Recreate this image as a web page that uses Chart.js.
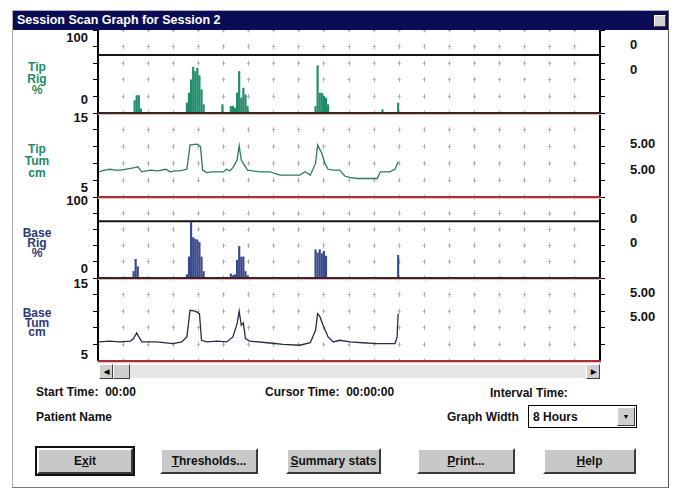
<!DOCTYPE html>
<html>
<head>
<meta charset="utf-8">
<title>Session Scan Graph for Session 2</title>
<script src="https://cdn.jsdelivr.net/npm/chart.js@4.4.1/dist/chart.umd.min.js"></script>
<style>
  html, body { margin: 0; padding: 0; background: #fff; }
  body {
    position: relative; width: 677px; height: 494px; overflow: hidden;
    font-family: 'Liberation Sans', Arial, sans-serif; font-weight: bold; font-size: 12px; color: #111;
  }
  .abs { position: absolute; white-space: nowrap; }

  /* ── window chrome ─────────────────────────── */
  #window   { left: 12px; top: 10px; width: 655px; height: 476px; border: 1px solid #b0b0b0; border-right-color: #555; border-bottom-color: #777; }
  #titlebar { left: 13px; top: 11px; width: 655px; height: 19px; background: #0c0c56; color: #fff; font-size: 12.5px; line-height: 19px; padding-left: 4px; box-sizing: border-box; }
  #closebtn { left: 654px; top: 15px; width: 12px; height: 12px; background: #d0d0d0; border: 1px solid #fff; border-right-color: #444; border-bottom-color: #444; box-sizing: border-box; }

  /* ── plot panels ───────────────────────────── */
  .panel { position: absolute; left: 93px; }
  .sep   { position: absolute; left: 98px; width: 503px; height: 2px; }
  .sep.dark { background: #3a2626; box-shadow: 0 1px 0 #e8b4b4; }
  .sep.red  { background: #a83030; box-shadow: 0 1px 0 #f0c0c0; }
  .side  { position: absolute; left: 18px; width: 38px; text-align: center; font-size: 12px; }
  .tip   { color: #1d8a68; }
  .base  { color: #2c3a7c; }
  .num   { position: absolute; font-size: 13px; line-height: 14px; }
  .num.l { right: 589px; text-align: right; }
  .num.r { left: 630px; }

  /* ── scrollbar ─────────────────────────────── */
  .raised { background: #cfcfcf; border: 1px solid #fff; border-right-color: #404040; border-bottom-color: #404040; box-sizing: border-box; }
  #sbTrack { left: 130px; top: 365px; width: 456px; height: 13px; background: #e6e6e6; }
  .arrow  { font-size: 7px; line-height: 13px; text-align: center; color: #000; }

  /* ── controls ──────────────────────────────── */
  .btn { top: 448px; height: 26px; line-height: 22px; text-align: center; background: #c8c8c8;
         border: 2px solid #fff; border-right-color: #3a3a3a; border-bottom-color: #3a3a3a; box-sizing: border-box; }
  #exitBtn { outline: 2px solid #111; }
  #combo  { left: 528px; top: 405px; width: 109px; height: 23px; border: 1px solid #000; background: #fff; box-sizing: border-box; }
</style>
</head>
<body>

<div id="window" class="abs"></div>
<div id="titlebar" class="abs">Session Scan Graph for Session 2</div>
<div id="closebtn" class="abs"></div>

<!-- side captions -->
<div class="side tip"  style="top:62px;   line-height:11.5px;">Tip<br>Rig<br>%</div>
<div class="side tip"  style="top:143px;  line-height:12px;">Tip<br>Tum<br>cm</div>
<div class="side base" style="top:228px;  line-height:10px;">Base<br>Rig<br>%</div>
<div class="side base" style="top:309px;  line-height:9.5px;">Base<br>Tum<br>cm</div>

<!-- left scale labels -->
<div class="num l" style="top:31px;">100</div>
<div class="num l" style="top:93px;">0</div>
<div class="num l" style="top:111px;">15</div>
<div class="num l" style="top:181px;">5</div>
<div class="num l" style="top:194px;">100</div>
<div class="num l" style="top:262px;">0</div>
<div class="num l" style="top:277px;">15</div>
<div class="num l" style="top:348px;">5</div>

<!-- right readouts -->
<div class="num r" style="top:38px;">0</div>
<div class="num r" style="top:63px;">0</div>
<div class="num r" style="top:137px;">5.00</div>
<div class="num r" style="top:163px;">5.00</div>
<div class="num r" style="top:212px;">0</div>
<div class="num r" style="top:236px;">0</div>
<div class="num r" style="top:286px;">5.00</div>
<div class="num r" style="top:310px;">5.00</div>

<canvas id="tipRig"  class="panel" width="512" height="83" style="top:30px;"></canvas>
<canvas id="tipTum"  class="panel" width="512" height="84" style="top:113px;"></canvas>
<canvas id="baseRig" class="panel" width="512" height="81" style="top:197px;"></canvas>
<canvas id="baseTum" class="panel" width="512" height="83" style="top:278px;"></canvas>

<div class="sep dark" style="top:112px;"></div>
<div class="sep red"  style="top:196px;"></div>
<div class="sep dark" style="top:277px;"></div>
<div class="sep red"  style="top:360px;"></div>

<!-- scrollbar -->
<div class="abs raised arrow" style="left:99px; top:364px; width:14px; height:15px;">&#9664;</div>
<div class="abs raised" style="left:113px; top:364px; width:17px; height:15px;"></div>
<div id="sbTrack" class="abs"></div>
<div class="abs raised arrow" style="left:586px; top:364px; width:14px; height:15px;">&#9654;</div>

<!-- readouts under the graph -->
<div class="abs" style="left:36px;  top:385px;">Start Time:&nbsp; 00:00</div>
<div class="abs" style="left:265px; top:385px;">Cursor Time:&nbsp; 00:00:00</div>
<div class="abs" style="left:490px; top:386px;">Interval Time:</div>
<div class="abs" style="left:36px;  top:410px;">Patient Name</div>
<div class="abs" style="left:447px; top:410px;">Graph Width</div>
<div id="combo" class="abs">
  <div class="abs" style="left:4px; top:4px;">8 Hours</div>
  <div class="abs raised arrow" style="right:1px; top:1px; width:18px; height:19px; line-height:17px;">&#9660;</div>
</div>

<div id="exitBtn" class="abs btn" style="left:37px;  width:96px;">E<u>x</u>it</div>
<div class="abs btn" style="left:160px; width:98px;"><u>T</u>hresholds...</div>
<div class="abs btn" style="left:286px; width:95px;"><u>S</u>ummary stats</div>
<div class="abs btn" style="left:417px; width:98px;"><u>P</u>rint...</div>
<div class="abs btn" style="left:543px; width:93px;"><u>H</u>elp</div>

<script>
/* ── Time axis (minutes from start, 8 hour graph width) ── */
const GRAPH_MINUTES    = 480;
const DIVISION_MINUTES = 24;

/* ── Tip rigidity, % ─────────────────────────── */
const TIP_RIG_TIMES  = [35, 37, 39, 41, 85, 87, 89, 91, 93, 95, 97, 99, 101, 119, 127, 129, 131, 133, 135, 137, 139, 141, 143, 208, 210, 212, 214, 216, 218, 220, 272, 287];
const TIP_RIG_VALUES = [15, 21, 21, 5, 12, 24, 40, 55, 50, 54, 45, 28, 10, 10, 8, 8, 6, 24, 50, 18, 30, 22, 8, 8, 57, 24, 24, 20, 18, 10, 4, 12];
const TIP_RIG_THRESHOLD = 70;

/* ── Tip tumescence, cm ──────────────────────── */
const TIP_TUM_TIMES  = [1, 6, 12, 16, 21, 26, 31, 35, 38, 42, 46, 50, 57, 65, 69, 73, 78, 85, 88, 95, 98, 100, 104, 109, 114, 120, 123, 126, 129, 133, 135, 137, 139, 143, 148, 155, 165, 169, 174, 184, 193, 198, 203, 208, 210, 214, 217, 220, 225, 231, 236, 241, 248, 257, 267, 270, 279, 284, 287];
const TIP_TUM_VALUES = [8.0, 8.2, 8.3, 8.2, 8.2, 8.3, 8.4, 8.5, 8.6, 8.0, 8.1, 8.2, 8.1, 8.3, 8.0, 8.1, 8.1, 8.3, 11.2, 11.3, 11.0, 8.2, 7.9, 8.0, 8.0, 8.0, 8.3, 8.1, 8.5, 9.4, 11.1, 9.4, 9.0, 8.2, 8.1, 8.0, 8.0, 7.8, 7.6, 7.6, 7.6, 8.0, 7.6, 9.0, 11.2, 10.2, 9.0, 8.3, 8.2, 8.2, 7.5, 7.3, 7.2, 7.2, 7.2, 8.0, 8.0, 8.3, 9.2];

/* ── Base rigidity, % ────────────────────────── */
const BASE_RIG_TIMES  = [34, 36, 38, 85, 87, 89, 91, 93, 95, 97, 99, 101, 127, 129, 131, 133, 135, 137, 139, 141, 143, 208, 210, 212, 214, 216, 218, 287];
const BASE_RIG_VALUES = [8, 23, 14, 4, 26, 69, 50, 48, 47, 44, 26, 8, 5, 3, 4, 22, 39, 26, 26, 8, 3, 35, 31, 35, 30, 33, 27, 28];
const BASE_RIG_THRESHOLD = 70;

/* ── Base tumescence, cm ─────────────────────── */
const BASE_TUM_TIMES  = [1, 11, 21, 31, 34, 37, 39, 42, 56, 72, 80, 85, 88, 93, 97, 99, 104, 114, 123, 129, 133, 135, 137, 139, 141, 145, 162, 177, 193, 203, 208, 210, 212, 215, 220, 225, 231, 241, 253, 267, 284, 286, 287];
const BASE_TUM_VALUES = [7.3, 7.4, 7.3, 7.4, 7.7, 8.4, 7.9, 7.3, 7.3, 7.1, 7.3, 7.9, 11.1, 11.0, 10.7, 7.5, 7.3, 7.4, 7.3, 7.9, 9.5, 11.0, 9.3, 9.6, 7.7, 7.4, 7.2, 7.0, 6.9, 7.2, 8.7, 10.7, 10.4, 9.4, 7.9, 7.3, 7.5, 7.3, 7.2, 7.1, 7.1, 7.9, 10.7];

/* ── Colours ─────────────────────────────────── */
const TIP_GREEN  = '#1f8c6c';
const TIP_LINE   = '#2b7a66';
const BASE_BLUE  = '#3a4a8e';
const BASE_LINE  = '#262b4c';
const GRID_GREY  = '#b0b0b0';

const toPoints = (xs, ys) => xs.map((x, i) => ({ x, y: ys[i] }));

function thresholdLine(value) {
    return {
        type: 'line',
        data: [{ x: 0, y: value }, { x: GRAPH_MINUTES, y: value }],
        borderColor: '#151515', borderWidth: 2, pointRadius: 0
    };
}

function rigBars(times, values, color) {
    return {
        type: 'bar',
        data: toPoints(times, values),
        backgroundColor: color, borderWidth: 0, barThickness: 1.5
    };
}

function tumLine(times, values, color) {
    return {
        type: 'line',
        data: toPoints(times, values),
        borderColor: color, borderWidth: 1.3, pointRadius: 0, tension: 0
    };
}

/* ── One strip of the scan graph ─────────────── */
function buildPanel(id, range, datasets) {
    const canvas = document.getElementById(id);
    const h = canvas.height;
    const colW = (canvas.width - 10) / (GRAPH_MINUTES / DIVISION_MINUTES);
    const rowH = h / ((range.max - range.min) / range.step);

    return new Chart(canvas, {
        type: 'line',
        data: { datasets },
        options: {
            responsive: false,
            animation: false,
            events: [],
            layout: { padding: 0 },
            plugins: { legend: { display: false }, tooltip: { enabled: false } },
            scales: {
                x: {
                    type: 'linear', min: 0, max: GRAPH_MINUTES, offset: false,
                    ticks:  { display: false, stepSize: DIVISION_MINUTES },
                    grid:   { color: GRID_GREY, drawTicks: false, offset: false },
                    border: { display: false, dash: [5, rowH - 5], dashOffset: 2.5 },
                    afterFit: s => { s.height = 0; }
                },
                y: {
                    position: 'left', min: range.min, max: range.max,
                    ticks:  { display: false, stepSize: range.step },
                    grid:   { color: GRID_GREY, tickColor: '#000', tickLength: 5, tickWidth: 1 },
                    border: { color: '#000', width: 2, dash: [3, colW - 3], dashOffset: 2.5 },
                    afterFit: s => { s.width = 5; }
                },
                yRight: {
                    position: 'right', min: range.min, max: range.max,
                    ticks:  { display: false, stepSize: range.step },
                    grid:   { drawOnChartArea: false, tickColor: '#000', tickLength: 5, tickWidth: 1 },
                    border: { color: '#000', width: 2 },
                    afterFit: s => { s.width = 5; }
                }
            }
        }
    });
}

const RIG_RANGE = { min: 0, max: 100, step: 20 };
const TUM_RANGE = { min: 5, max: 15,  step: 2 };

buildPanel('tipRig',  RIG_RANGE, [rigBars(TIP_RIG_TIMES, TIP_RIG_VALUES, TIP_GREEN), thresholdLine(TIP_RIG_THRESHOLD)]);
buildPanel('tipTum',  TUM_RANGE, [tumLine(TIP_TUM_TIMES, TIP_TUM_VALUES, TIP_LINE)]);
buildPanel('baseRig', RIG_RANGE, [rigBars(BASE_RIG_TIMES, BASE_RIG_VALUES, BASE_BLUE), thresholdLine(BASE_RIG_THRESHOLD)]);
buildPanel('baseTum', TUM_RANGE, [tumLine(BASE_TUM_TIMES, BASE_TUM_VALUES, BASE_LINE)]);
</script>
</body>
</html>
